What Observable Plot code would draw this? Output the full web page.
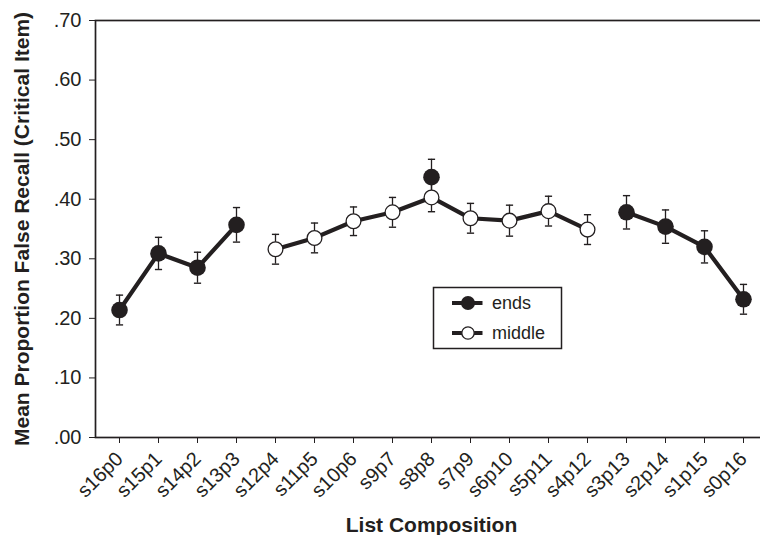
<!DOCTYPE html>
<html>
<head>
<meta charset="utf-8">
<script src="https://cdn.jsdelivr.net/npm/d3@7"></script>
<script src="https://cdn.jsdelivr.net/npm/@observablehq/plot@0.6"></script>
<style>
  body { margin: 0; background: #fff; }
  #chart svg { display: block; }
  #chart svg g[aria-label*="axis"] text { font-size: 20px !important; }
</style>
</head>
<body>
<div id="chart"></div>
<script>
// List compositions: s = study items, p = positions
const compositions = ["s16p0", "s15p1", "s14p2", "s13p3", "s12p4", "s11p5", "s10p6", "s9p7", "s8p8",
  "s7p9", "s6p10", "s5p11", "s4p12", "s3p13", "s2p14", "s1p15", "s0p16"];

// Mean proportion of false recall, critical item placed at the list ends
const endsValues = [0.214, 0.309, 0.285, 0.357, null, null, null, null, 0.437,
  null, null, null, null, 0.378, 0.354, 0.320, 0.232];
const endsErrors = [0.025, 0.027, 0.026, 0.029, null, null, null, null, 0.030,
  null, null, null, null, 0.028, 0.028, 0.027, 0.025];

// Critical item placed in the middle of the list
const middleValues = [null, null, null, null, 0.316, 0.335, 0.363, 0.378, 0.403,
  0.368, 0.364, 0.380, 0.349, null, null, null, null];
const middleErrors = [null, null, null, null, 0.025, 0.025, 0.024, 0.025, 0.024,
  0.025, 0.026, 0.025, 0.025, null, null, null, null];

const yTicks = [0, 0.1, 0.2, 0.3, 0.4, 0.5, 0.6, 0.7];
const yTickLabels = [".00", ".10", ".20", ".30", ".40", ".50", ".60", ".70"];

const ink = "#231f20";
const font = "'Liberation Sans', Arial, Helvetica, sans-serif";

const toRows = (values, errors) => compositions.map((c, i) => ({
  composition: c,
  value: values[i],
  lo: values[i] == null ? null : values[i] - errors[i],
  hi: values[i] == null ? null : values[i] + errors[i]
}));
const ends = toRows(endsValues, endsErrors);
const middle = toRows(middleValues, middleErrors);
const present = rows => rows.filter(d => d.value != null);
const allPoints = [...present(ends), ...present(middle)];

// Short horizontal cap for the error bars
const cap = { draw(context) { context.moveTo(-3.6, 0); context.lineTo(3.6, 0); } };

const plot = Plot.plot({
  width: 760,
  height: 535,
  marginLeft: 95,
  marginRight: -7,
  marginTop: 20,
  marginBottom: 98,
  style: { fontFamily: font, fontSize: "20px", color: ink, background: "#fff" },
  x: {
    type: "point",
    domain: compositions,
    padding: 0.5,
    tickRotate: -45,
    tickSize: 6,
    tickPadding: 12,
    label: null
  },
  y: {
    domain: [0, 0.7],
    ticks: yTicks,
    tickFormat: (d, i) => yTickLabels[i],
    tickSize: 6,
    tickPadding: 8,
    label: null
  },
  marks: [
    Plot.frame({ stroke: ink, strokeWidth: 1.7 }),
    // error bars
    Plot.ruleX(allPoints, { x: "composition", y1: "lo", y2: "hi", stroke: ink, strokeWidth: 1.3 }),
    Plot.dot(allPoints, { x: "composition", y: "hi", symbol: cap, stroke: ink, strokeWidth: 1.4 }),
    Plot.dot(allPoints, { x: "composition", y: "lo", symbol: cap, stroke: ink, strokeWidth: 1.4 }),
    // connecting lines (gaps break the ends series)
    Plot.line(ends, { x: "composition", y: "value", stroke: ink, strokeWidth: 4.2, strokeLinejoin: "round" }),
    Plot.line(middle, { x: "composition", y: "value", stroke: ink, strokeWidth: 4.2, strokeLinejoin: "round" }),
    // markers
    Plot.dot(present(ends), { x: "composition", y: "value", r: 8.3, fill: ink, stroke: "none" }),
    Plot.dot(present(middle), { x: "composition", y: "value", r: 7.4, fill: "#fff", stroke: ink, strokeWidth: 1.3 }),
    // axis titles
    Plot.text(["List Composition"], {
      frameAnchor: "bottom", dy: 94, fontSize: 21, fontWeight: "bold", fill: ink, lineAnchor: "bottom"
    }),
    Plot.text(["Mean Proportion False Recall (Critical Item)"], {
      frameAnchor: "left", dx: -73, rotate: -90, textAnchor: "middle",
      fontSize: 21, fontWeight: "bold", fill: ink
    })
  ]
});

document.getElementById("chart").appendChild(plot);

// Legend box inside the plotting area
const svg = d3.select(plot);
const legend = svg.append("g").attr("transform", "translate(433.5,287.5)")
  .attr("font-family", font).attr("font-size", 18).attr("fill", ink)
  .attr("text-anchor", "start");
legend.append("rect").attr("width", 128).attr("height", 61)
  .attr("fill", "#fff").attr("stroke", ink).attr("stroke-width", 1.5);
const entries = [
  { label: "ends", fill: ink, r: 7 },
  { label: "middle", fill: "#fff", r: 6.2 }
];
entries.forEach((e, i) => {
  const g = legend.append("g").attr("transform", `translate(0,${15.5 + i * 30})`);
  g.append("line").attr("x1", 18.5).attr("x2", 49).attr("stroke", ink).attr("stroke-width", 4);
  g.append("circle").attr("cx", 34.5).attr("r", e.r).attr("fill", e.fill)
    .attr("stroke", ink).attr("stroke-width", e.fill === ink ? 0 : 1.3);
  g.append("text").attr("x", 58.5).attr("dy", "0.35em").attr("text-anchor", "start").text(e.label);
});
</script>
</body>
</html>
